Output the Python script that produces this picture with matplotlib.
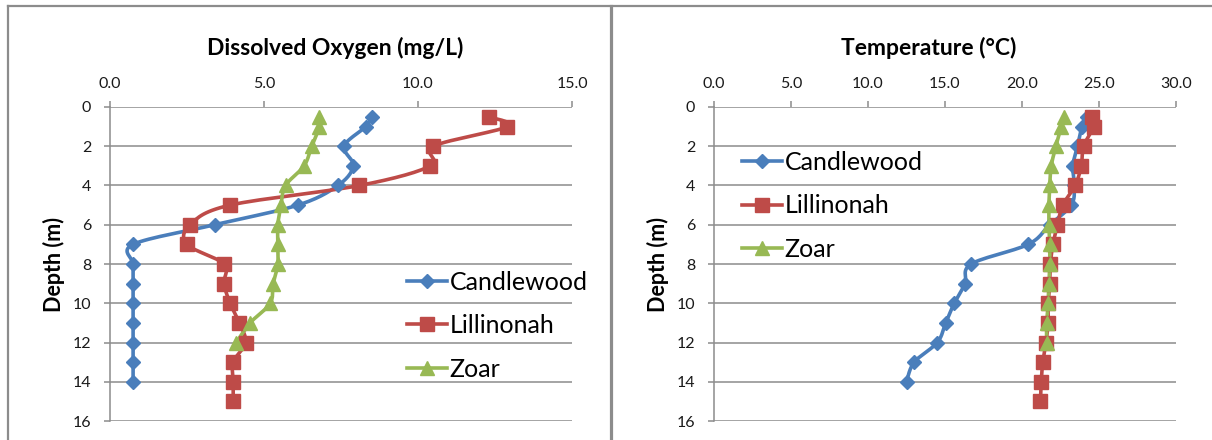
import numpy as np
import matplotlib
matplotlib.use("Agg")
import matplotlib.pyplot as plt
from matplotlib.lines import Line2D

plt.rcParams['font.family'] = ['Lato', 'DejaVu Sans']

# depth profiles, one list per lake
depth = [0.5, 1, 2, 3, 4, 5, 6, 7, 8, 9, 10, 11, 12, 13, 14, 15]

do_candlewood = [8.5, 8.3, 7.6, 7.9, 7.4, 6.1, 3.4, 0.75, 0.75, 0.75, 0.75, 0.75, 0.75, 0.75, 0.75]
do_lillinonah = [12.3, 12.9, 10.5, 10.4, 8.1, 3.9, 2.6, 2.5, 3.7, 3.7, 3.9, 4.2, 4.4, 4.0, 4.0, 4.0]
do_zoar = [6.8, 6.8, 6.55, 6.3, 5.7, 5.55, 5.45, 5.45, 5.45, 5.3, 5.2, 4.55, 4.1]

temp_candlewood = [24.2, 23.9, 23.6, 23.3, 23.4, 23.2, 21.8, 20.4, 16.7, 16.3, 15.6, 15.05, 14.5, 13.0, 12.5]
temp_lillinonah = [24.55, 24.65, 24.0, 23.85, 23.45, 22.65, 22.3, 22.0, 21.85, 21.8, 21.7, 21.7, 21.55, 21.35, 21.25, 21.2]
temp_zoar = [22.75, 22.55, 22.2, 21.9, 21.8, 21.75, 21.75, 21.8, 21.8, 21.75, 21.7, 21.6, 21.6]

lakes = ["Candlewood", "Lillinonah", "Zoar"]
colors = ["#4A7EBB", "#BE4B48", "#98B954"]
markers = [("D", 7), ("s", 9.5), ("^", 10)]

W, H = 1212, 440


def smooth_path(xs, ys, steps=16):
    # Bezier smoothing through the points, like Excel's smoothed lines
    p = np.column_stack([xs, ys]).astype(float)
    ext = np.vstack([p[0], p, p[-1]])
    out = [p[0]]
    t = np.linspace(0, 1, steps)[1:, None]
    for i in range(len(p) - 1):
        p0, p1, p2, p3 = ext[i], ext[i + 1], ext[i + 2], ext[i + 3]
        c1 = p1 + (p2 - p0) / 6
        c2 = p2 - (p3 - p1) / 6
        seg = (1 - t) ** 3 * p1 + 3 * (1 - t) ** 2 * t * c1 + 3 * (1 - t) * t ** 2 * c2 + t ** 3 * p2
        out.extend(seg)
    return np.array(out)


def px_box(x0, y0, x1, y1):
    return [x0 / W, 1 - y1 / H, (x1 - x0) / W, (y1 - y0) / H]


def draw_panel(ax, series, xmax, xstep):
    for vals, col, (mk, ms) in zip(series, colors, markers):
        d = depth[:len(vals)]
        path = smooth_path(vals, d)
        ax.plot(path[:, 0], path[:, 1], color=col, lw=2.6, solid_capstyle="round", zorder=3)
        ax.plot(vals, d, ls="none", marker=mk, ms=ms, color=col, mec=col, zorder=4)
    ax.set_xlim(0, xmax)
    ax.set_ylim(16, 0)
    ax.set_xticks(np.arange(0, xmax + 0.1, xstep))
    ax.set_xticklabels([f"{v:.1f}" for v in np.arange(0, xmax + 0.1, xstep)])
    ax.set_yticks(np.arange(0, 17, 2))
    ax.xaxis.tick_top()
    ax.grid(axis="y", color="#8C8C8C", lw=1.1)
    ax.set_axisbelow(True)
    for s in ["right", "bottom", "top"]:
        ax.spines[s].set_visible(False)
    ax.spines["left"].set_color("#8C8C8C")
    ax.spines["left"].set_linewidth(1.1)
    ax.tick_params(axis="both", colors="#8C8C8C", labelcolor="#1A1A1A", labelsize=11.5,
                   length=4.5, width=1.1, direction="out")
    ax.tick_params(axis="x", pad=7)
    ax.tick_params(axis="y", pad=9)
    ax.set_ylabel("Depth (m)", fontsize=15.5, fontweight="bold")
    ax.yaxis.set_label_coords(-0.097, 0.5)


fig = plt.figure(figsize=(W / 100, H / 100), dpi=100)

ax1 = fig.add_axes(px_box(110, 107, 572, 421))
draw_panel(ax1, [do_candlewood, do_lillinonah, do_zoar], 15, 5)

ax2 = fig.add_axes(px_box(714, 107, 1176, 421))
draw_panel(ax2, [temp_candlewood, temp_lillinonah, temp_zoar], 30, 5)

fig.text(335 / W, 1 - 48 / H, "Dissolved Oxygen (mg/L)", ha="center", va="center",
         fontsize=16.5, fontweight="bold")
fig.text(929 / W, 1 - 48 / H, "Temperature (°C)", ha="center", va="center",
         fontsize=16.5, fontweight="bold")

handles = [Line2D([0], [0], color=c, lw=2.6, marker=mk, ms=ms, mec=c)
           for c, (mk, ms) in zip(colors, markers)]
leg_kw = dict(frameon=False, fontsize=18, handlelength=1.6, handletextpad=0.12,
              labelspacing=0.83, borderpad=0, loc="upper left")
fig.legend(handles, lakes, bbox_to_anchor=(394 / W, 1 - 258 / H), **leg_kw)
fig.legend(handles, lakes, bbox_to_anchor=(729 / W, 1 - 138 / H), **leg_kw)

# chart area borders
border = dict(color="#8C8C8C", transform=fig.transFigure)
fig.add_artist(Line2D([8 / W, 1], [1 - 6 / H, 1 - 6 / H], lw=1.6, **border))
fig.add_artist(Line2D([8 / W, 8 / W], [0, 1 - 6 / H], lw=1.6, **border))
fig.add_artist(Line2D([611 / W, 611 / W], [0, 1 - 6 / H], lw=2.3, **border))

fig.savefig("out.png", dpi=100)
